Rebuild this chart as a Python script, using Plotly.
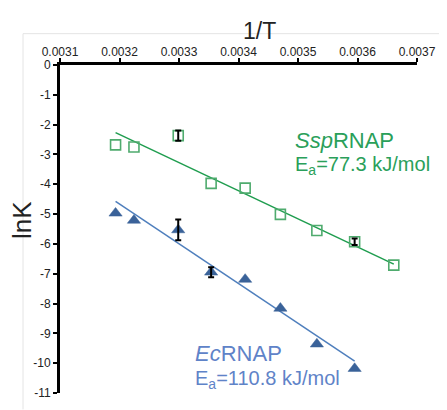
import plotly.graph_objects as go

# ---- data ----
inv_T = [0.0031934, 0.0032243, 0.0032987, 0.0033540, 0.0034112,
         0.0034704, 0.0035317, 0.0035952, 0.0036610]
ssp_lnK = [-2.68, -2.75, -2.37, -3.97, -4.13, -5.01, -5.55, -5.93, -6.71]
ssp_err = [0, 0, 0.17, 0, 0, 0, 0, 0.11, 0]
ec_invT = inv_T[:8]
ec_lnK = [-4.97, -5.21, -5.53, -6.95, -7.19, -8.16, -9.36, -10.18]
ec_err = [0, 0, 0.35, 0.17, 0, 0, 0, 0]

ssp_fit_x = [0.0031934, 0.0036610]
ssp_fit_y = [-2.27, -6.68]
ec_fit_x = [0.0031934, 0.0035952]
ec_fit_y = [-4.575, -9.93]

x_ticks = [0.0031, 0.0032, 0.0033, 0.0034, 0.0035, 0.0036, 0.0037]
x_ticktext = ["0.0031", "0.0032", "0.0033", "0.0034", "0.0035", "0.0036", "0.0037"]
y_ticks = [0, -1, -2, -3, -4, -5, -6, -7, -8, -9, -10, -11]
y_ticktext = ["0", "-1", "-2", "-3", "-4", "-5", "-6", "-7", "-8", "-9", "-10", "-11"]

GREEN_LINE = "#1f9d4f"
GREEN_MK = "#4fab6e"
GREEN_TXT = "#2aa05a"
BLUE_MK = "#3a6299"
BLUE_LINE = "#4f7fbd"
BLUE_TXT = "#5f83c8"
FONT = "Liberation Sans, Arial, sans-serif"

fig = go.Figure()

# fit lines
fig.add_trace(go.Scatter(x=ssp_fit_x, y=ssp_fit_y, mode="lines",
                         line=dict(color=GREEN_LINE, width=1.5), hoverinfo="skip"))
fig.add_trace(go.Scatter(x=ec_fit_x, y=ec_fit_y, mode="lines",
                         line=dict(color=BLUE_LINE, width=1.5), hoverinfo="skip"))

# markers
fig.add_trace(go.Scatter(x=inv_T, y=ssp_lnK, mode="markers",
                         marker=dict(symbol="square-open", size=10,
                                     color=GREEN_MK, line=dict(width=1.6, color=GREEN_MK))))
fig.add_trace(go.Scatter(x=ec_invT, y=ec_lnK, mode="markers",
                         marker=dict(symbol="triangle-up", size=11.5, color=BLUE_MK,
                                     line=dict(width=0.5, color=BLUE_MK))))

# error bars (only where present)
for xs, ys, es in [(inv_T, ssp_lnK, ssp_err), (ec_invT, ec_lnK, ec_err)]:
    idx = [i for i, e in enumerate(es) if e > 0]
    fig.add_trace(go.Scatter(
        x=[xs[i] for i in idx], y=[ys[i] for i in idx], mode="markers",
        marker=dict(size=1, color="rgba(0,0,0,0)"),
        error_y=dict(type="data", array=[es[i] for i in idx], visible=True,
                     color="black", thickness=2, width=3),
        hoverinfo="skip"))

annotations = [
    dict(text="1/T", x=0.56, y=1.105, xref="paper", yref="paper", showarrow=False,
         font=dict(size=23, color="#222", family=FONT), xanchor="center", yanchor="middle"),
    dict(text="lnK", x=-0.106, y=0.528, xref="paper", yref="paper", showarrow=False,
         textangle=-90, font=dict(size=26, color="#222", family=FONT),
         xanchor="center", yanchor="middle"),
    dict(text="<i>Ssp</i>RNAP", x=0.6527, y=0.770, xref="paper", yref="paper",
         showarrow=False, font=dict(size=22, color=GREEN_TXT, family=FONT),
         xanchor="left", yanchor="middle"),
    dict(text="E<sub>a</sub>=77.3 kJ/mol", x=0.6527, y=0.6925, xref="paper", yref="paper",
         showarrow=False, font=dict(size=20, color=GREEN_TXT, family=FONT),
         xanchor="left", yanchor="middle"),
    dict(text="<i>Ec</i>RNAP", x=0.3725, y=0.119, xref="paper", yref="paper",
         showarrow=False, font=dict(size=22, color=BLUE_TXT, family=FONT),
         xanchor="left", yanchor="middle"),
    dict(text="E<sub>a</sub>=110.8 kJ/mol", x=0.3725, y=0.042, xref="paper", yref="paper",
         showarrow=False, font=dict(size=20, color=BLUE_TXT, family=FONT),
         xanchor="left", yanchor="middle"),
]

shapes = [
    dict(type="line", xref="paper", yref="paper", x0=-0.1036, x1=1.1, y0=1.0955, y1=1.0955,
         line=dict(color="#e4e4e4", width=1), layer="below"),
    dict(type="line", xref="paper", yref="paper", x0=-0.1036, x1=-0.1036, y0=-0.05, y1=1.0955,
         line=dict(color="#e4e4e4", width=1), layer="below"),
]

# page body has an 8px default margin: size the figure so the plot area lands
# where the reference draws it inside the 447x410 window
fig.update_layout(
    width=439, height=402,
    margin=dict(l=52, r=30, t=57, b=10),
    paper_bgcolor="white", plot_bgcolor="white",
    showlegend=False,
    font=dict(family=FONT, size=12, color="#222"),
    annotations=annotations,
    shapes=shapes,
    xaxis=dict(side="top", range=[0.0031, 0.0037], tickvals=x_ticks, ticktext=x_ticktext,
               ticks="outside", ticklen=4, tickwidth=1.5, tickcolor="black",
               ticklabelstandoff=-3,
               showline=True, linecolor="black", linewidth=3,
               showgrid=False, zeroline=False, tickfont=dict(size=12, color="#222")),
    yaxis=dict(range=[-11, 0], tickvals=y_ticks, ticktext=y_ticktext,
               ticks="outside", ticklen=4, tickwidth=1.5, tickcolor="black",
               showline=True, linecolor="black", linewidth=3,
               showgrid=False, zeroline=False, tickfont=dict(size=12, color="#222")),
)

fig.write_html("out.html")
